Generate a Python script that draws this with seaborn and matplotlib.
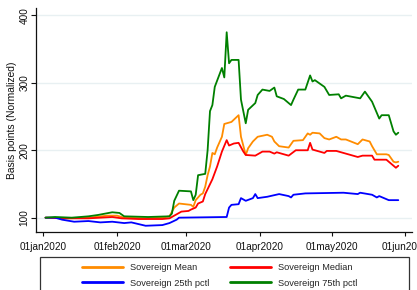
import matplotlib
matplotlib.use("Agg")
import matplotlib.pyplot as plt
from matplotlib.patches import Rectangle
from matplotlib.lines import Line2D
import pandas as pd
import seaborn as sns

# ---------------- data ----------------
mean_dates = ["2020-01-02", "2020-01-10", "2020-01-20", "2020-01-28", "2020-02-01", "2020-02-04",
              "2020-02-13", "2020-02-20", "2020-02-23", "2020-02-25", "2020-02-27", "2020-03-03",
              "2020-03-04", "2020-03-05", "2020-03-07", "2020-03-08", "2020-03-09", "2020-03-10",
              "2020-03-11", "2020-03-12", "2020-03-13", "2020-03-14", "2020-03-16", "2020-03-17",
              "2020-03-18", "2020-03-20", "2020-03-23", "2020-03-24", "2020-03-26", "2020-03-27",
              "2020-03-29", "2020-03-31", "2020-04-04", "2020-04-06", "2020-04-07", "2020-04-09",
              "2020-04-13", "2020-04-15", "2020-04-19", "2020-04-21", "2020-04-22", "2020-04-23",
              "2020-04-26", "2020-04-28", "2020-04-30", "2020-05-03", "2020-05-05", "2020-05-07",
              "2020-05-12", "2020-05-14", "2020-05-17", "2020-05-18", "2020-05-20", "2020-05-24",
              "2020-05-25", "2020-05-27", "2020-05-28", "2020-05-29"]
mean_vals = [100, 99, 100, 103, 103, 100,
             99, 100, 102, 115, 121, 119,
             116, 126, 134, 136, 146, 163,
             176, 196, 194, 204, 220, 239,
             240, 242, 252, 220, 193, 203,
             213, 220, 223, 220, 213, 206,
             204, 214, 215, 225, 223, 226,
             225, 218, 216, 220, 216, 216,
             209, 216, 213, 206, 194, 194,
             193, 183, 182, 183]

median_dates = ["2020-01-02", "2020-01-10", "2020-01-20", "2020-01-30", "2020-02-03", "2020-02-10",
                "2020-02-20", "2020-02-23", "2020-02-26", "2020-02-28", "2020-03-02", "2020-03-03",
                "2020-03-05", "2020-03-06", "2020-03-08", "2020-03-09", "2020-03-12", "2020-03-14",
                "2020-03-16", "2020-03-18", "2020-03-19", "2020-03-21", "2020-03-23", "2020-03-25",
                "2020-03-26", "2020-03-30", "2020-04-02", "2020-04-05", "2020-04-07", "2020-04-08",
                "2020-04-13", "2020-04-16", "2020-04-21", "2020-04-22", "2020-04-23", "2020-04-26",
                "2020-04-28", "2020-04-29", "2020-05-03", "2020-05-05", "2020-05-07", "2020-05-12",
                "2020-05-14", "2020-05-18", "2020-05-19", "2020-05-24", "2020-05-25", "2020-05-27",
                "2020-05-28", "2020-05-29"]
median_vals = [100, 99, 99, 101, 99, 98,
               98, 99, 105, 109, 110, 112,
               115, 121, 124, 135, 157, 176,
               198, 215, 207, 210, 211, 198,
               193, 192, 198, 198, 195, 197,
               192, 200, 200, 211, 201, 198,
               196, 199, 199, 197, 195, 190,
               192, 192, 186, 186, 183, 177,
               174, 177]

p25_dates = ["2020-01-02", "2020-01-06", "2020-01-09", "2020-01-14", "2020-01-20", "2020-01-25",
             "2020-01-30", "2020-02-04", "2020-02-07", "2020-02-13", "2020-02-20", "2020-02-23",
             "2020-02-26", "2020-02-27", "2020-03-18", "2020-03-19", "2020-03-20", "2020-03-23",
             "2020-03-24", "2020-03-26", "2020-03-29", "2020-03-30", "2020-03-31", "2020-04-04",
             "2020-04-09", "2020-04-13", "2020-04-14", "2020-04-15", "2020-04-20", "2020-05-06",
             "2020-05-12", "2020-05-13", "2020-05-18", "2020-05-20", "2020-05-21", "2020-05-23",
             "2020-05-25", "2020-05-29"]
p25_vals = [100, 100, 97, 94, 95, 93,
            94, 92, 93, 88, 89, 92,
            97, 100, 101, 115, 119, 120,
            129, 125, 129, 135, 129, 131,
            135, 132, 130, 134, 136, 137,
            135, 137, 134, 130, 132, 129,
            126, 126]

p75_dates = ["2020-01-02", "2020-01-06", "2020-01-13", "2020-01-20", "2020-01-24", "2020-01-30",
             "2020-02-02", "2020-02-04", "2020-02-14", "2020-02-23", "2020-02-24", "2020-02-25",
             "2020-02-27", "2020-03-03", "2020-03-04", "2020-03-05", "2020-03-06", "2020-03-09",
             "2020-03-10", "2020-03-11", "2020-03-12", "2020-03-13", "2020-03-16", "2020-03-17",
             "2020-03-18", "2020-03-19", "2020-03-20", "2020-03-23", "2020-03-24", "2020-03-26",
             "2020-03-27", "2020-03-30", "2020-03-31", "2020-04-02", "2020-04-05", "2020-04-07",
             "2020-04-08", "2020-04-11", "2020-04-14", "2020-04-15", "2020-04-17", "2020-04-20",
             "2020-04-22", "2020-04-23", "2020-04-24", "2020-04-26", "2020-04-28", "2020-04-30",
             "2020-05-04", "2020-05-05", "2020-05-07", "2020-05-13", "2020-05-15", "2020-05-18",
             "2020-05-21", "2020-05-22", "2020-05-25", "2020-05-27", "2020-05-28", "2020-05-29"]
p75_vals = [100, 101, 100, 102, 104, 108,
            107, 102, 101, 102, 106, 125,
            140, 139, 126, 134, 163, 165,
            200, 258, 267, 294, 322, 308,
            375, 329, 334, 334, 275, 240,
            260, 270, 282, 290, 288, 293,
            280, 276, 267, 275, 290, 290,
            311, 302, 304, 299, 294, 282,
            283, 277, 281, 277, 287, 272,
            247, 252, 252, 228, 223, 226]

series_names = ["Sovereign Mean", "Sovereign Median", "Sovereign 25th pctl", "Sovereign 75th pctl"]
series_colors = ["#ff8c00", "#ff0000", "#0000ff", "#008000"]

tick_dates = ["2020-01-01", "2020-02-01", "2020-03-01", "2020-04-01", "2020-05-01", "2020-06-01"]
tick_labels = ["01jan2020", "01feb2020", "01mar2020", "01apr2020", "01may2020", "01jun2020"]
y_ticks = [100, 200, 300, 400]
y_label = "Basis points (Normalized)"

# ---------------- build long table ----------------
frames = []
for name, d, v in zip(series_names,
                      [mean_dates, median_dates, p25_dates, p75_dates],
                      [mean_vals, median_vals, p25_vals, p75_vals]):
    frames.append(pd.DataFrame({"date": pd.to_datetime(d), "value": v, "series": name}))
df = pd.concat(frames, ignore_index=True)

# ---------------- plot ----------------
sns.set_style("white")
plt.rcParams["font.family"] = ["Liberation Sans", "DejaVu Sans"]

fig = plt.figure(figsize=(4.17, 2.90), dpi=100)
ax = fig.add_axes([36 / 417, 1 - 232.3 / 290, (412 - 36) / 417, (232.3 - 8) / 290])

sns.lineplot(data=df, x="date", y="value", hue="series", hue_order=series_names,
             palette=dict(zip(series_names, series_colors)), estimator=None,
             linewidth=1.3, legend=False, ax=ax)

ax.set_xlim(pd.Timestamp("2019-12-29"), pd.Timestamp("2020-06-03 18:00"))
ax.set_ylim(78.3, 411)
ax.set_xticks(pd.to_datetime(tick_dates))
ax.set_xticklabels(tick_labels)
ax.set_yticks(y_ticks)
ax.set_yticklabels([str(t) for t in y_ticks], rotation=90, va="center")
ax.set_xlabel("")
ax.set_ylabel(y_label, fontsize=7.4, color="#111111", labelpad=1.5)

for side in ["top", "right"]:
    ax.spines[side].set_visible(False)
for side in ["left", "bottom"]:
    ax.spines[side].set_color("#111111")
    ax.spines[side].set_linewidth(0.9)

ax.tick_params(axis="x", which="major", bottom=True, length=3.2, width=0.8, color="#111111",
               labelsize=7.2, labelcolor="#111111", pad=4)
ax.tick_params(axis="y", which="major", left=True, length=3.6, width=0.8, color="#111111",
               labelsize=7.2, labelcolor="#111111", pad=1.2)

ax.yaxis.grid(True, color="#e8f0f2", linewidth=1.0)
ax.xaxis.grid(False)
ax.set_axisbelow(True)

# legend (column-major filling -> reorder so rows read Mean/Median, 25th/75th)
hs = [Line2D([], [], color=c, linewidth=2.0) for c in series_colors]
order = [0, 2, 1, 3]
leg = fig.legend([hs[i] for i in order], [series_names[i] for i in order],
                 ncol=2, loc="upper center", bbox_to_anchor=(0.527, 0.121),
                 frameon=False, fontsize=6.7, handlelength=4.4, handletextpad=0.75,
                 columnspacing=2.2, labelspacing=0.68)

fig.patches.append(Rectangle((40 / 417, -0.05), (409 - 40) / 417, 0.05 + 1 - 257 / 290,
                             transform=fig.transFigure, fill=False,
                             edgecolor="#333333", linewidth=0.9))

fig.savefig("out.png", dpi=100)
